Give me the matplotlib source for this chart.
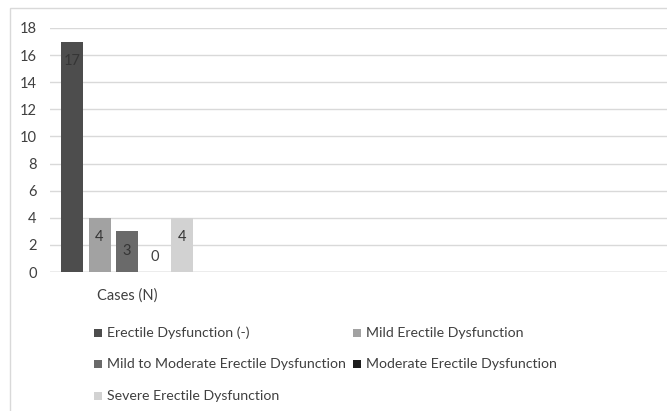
import matplotlib.pyplot as plt
from matplotlib.patches import Rectangle

# data
categories = ['Erectile Dysfunction (-)', 'Mild Erectile Dysfunction',
              'Mild to Moderate Erectile Dysfunction', 'Moderate Erectile Dysfunction',
              'Severe Erectile Dysfunction']
values = [17, 4, 3, 0, 4]
group_label = 'Cases (N)'
colors = ['#4d4d4d', '#a2a2a2', '#6a6a6a', '#1c1c1c', '#d2d2d2']

plt.rcParams['font.family'] = ['Lato', 'DejaVu Sans']

W, H = 667, 411
fig = plt.figure(figsize=(W / 100, H / 100), dpi=100)

# chart border
fig.patches.append(Rectangle((10 / W, -0.01), 1.0, 1 - 8 / H + 0.01, transform=fig.transFigure,
                             facecolor='none', edgecolor='#d9d9d9', linewidth=1))

# plot area in pixels
left, right, bottom, top = 50, 667, 272, 28
ax = fig.add_axes([left / W, (H - bottom) / H, (right - left) / W, (bottom - top) / H])
span = right - left
bar_w = 22 / span
step = 27.5 / span
center = 77 / span
xs = [center + (i - 2) * step for i in range(len(values))]

bars = ax.bar(xs, values, width=bar_w, color=colors, zorder=3)

for x, v in zip(xs, values):
    if v > 0:
        ax.text(x, v - 1.45, str(v), ha='center', va='center', fontsize=10.5, color='#353535', zorder=4)
    else:
        ax.text(x, v + 1.1, str(v), ha='center', va='center', fontsize=10.5, color='#404040', zorder=4)

ax.set_xlim(0, 1)
ax.set_ylim(0, 18)
ax.set_yticks(range(0, 19, 2))
ax.set_xticks([])
ax.tick_params(axis='y', length=0, labelsize=10.5, labelcolor='#404040', pad=9.5)
for s in ax.spines.values():
    s.set_visible(False)
ax.grid(axis='y', color='#d9d9d9', linewidth=1, zorder=0)
ax.axhline(0, color='#bfbfbf', linewidth=1, zorder=2)

fig.text((left + 77) / W, 1 - 296 / H, group_label, ha='center', va='center',
         fontsize=10.5, color='#404040')

# legend, two columns, row-wise order
col_x = [94, 353]
row_y = [333, 364, 396]
for i, (name, c) in enumerate(zip(categories, colors)):
    px = col_x[i % 2]
    py = row_y[i // 2]
    fig.patches.append(Rectangle((px / W, 1 - (py + 4) / H), 8 / W, 8 / H,
                                 transform=fig.transFigure, facecolor=c, edgecolor='none'))
    fig.text((px + 13) / W, 1 - py / H, name, ha='left', va='center',
             fontsize=10.2, color='#404040')

fig.savefig('out.png', dpi=100)
